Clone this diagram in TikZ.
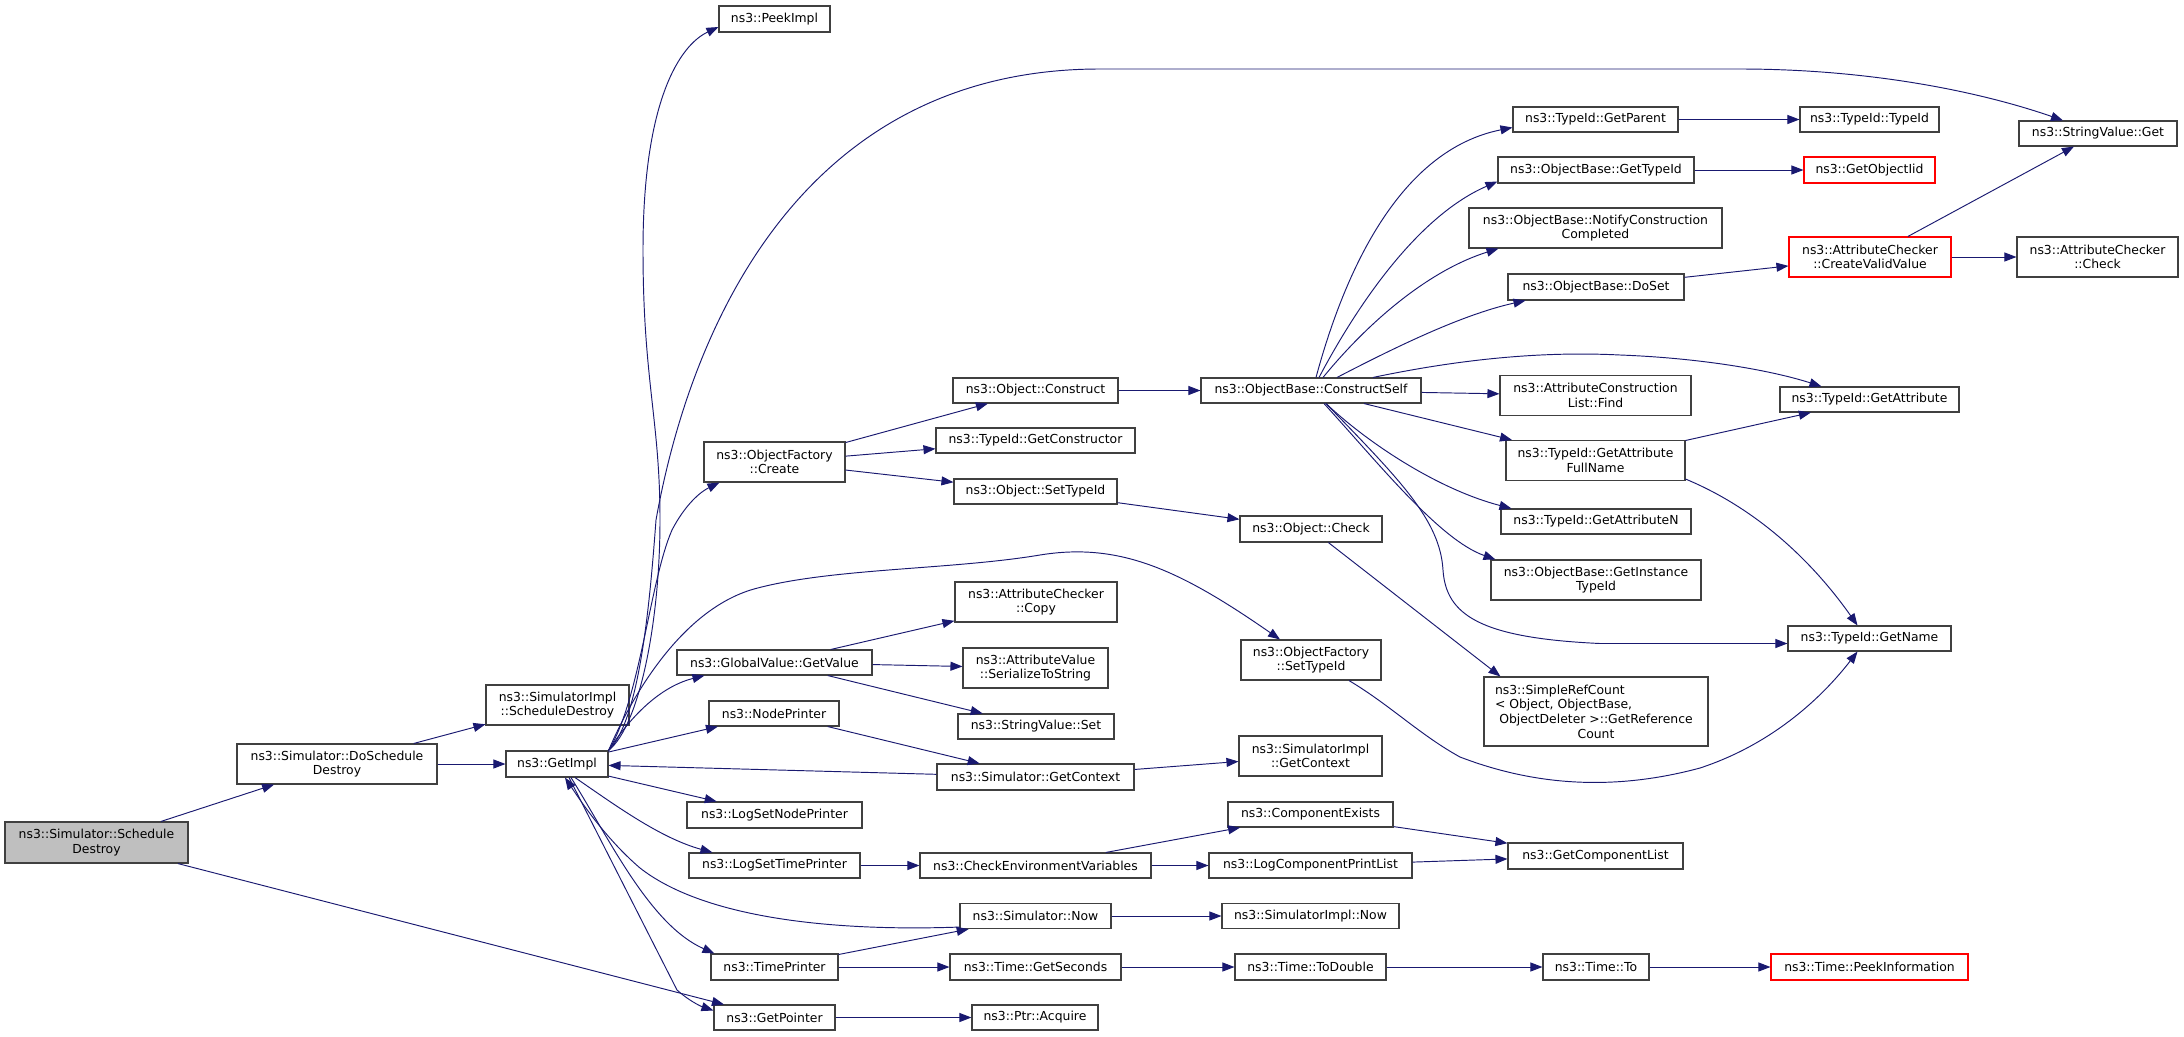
\documentclass[tikz,border=0pt]{standalone}
\usepackage{fontspec}
\setmainfont{DejaVu Sans}
\usetikzlibrary{arrows.meta}
\definecolor{callblue}{HTML}{191970}
\definecolor{boxline}{HTML}{404040}
\definecolor{focusgray}{HTML}{BFBFBF}

\begin{document}
\begin{tikzpicture}[x=1pt, y=-1pt,
    fn/.style={draw=boxline, line width=1.1pt, fill=white, inner sep=0pt, align=center,
      font=\fontsize{12.4}{14.7}\selectfont},
    hot/.style={fn, draw=red},
    call/.style={draw=callblue, line width=0.95pt, -{Triangle[length=12pt,width=9pt]}}]
  \useasboundingbox (0,0) rectangle (2184,1036);

  % first columns
  \node [fn, minimum width=183pt, minimum height=41pt, fill=focusgray] (sched) at (96.5,842.5) {ns3::Simulator::Schedule\\Destroy};
  \node [fn, minimum width=200pt, minimum height=40pt] (dosched) at (337,764) {ns3::Simulator::DoSchedule\\Destroy};
  \node [fn, minimum width=143pt, minimum height=40pt] (implsched) at (557.5,705) {ns3::SimulatorImpl\\::ScheduleDestroy};
  \node [fn, minimum width=102pt, minimum height=26pt] (getimpl) at (557,764) {ns3::GetImpl};

  \node [fn, minimum width=111pt, minimum height=26pt] (peekimpl) at (774.5,19) {ns3::PeekImpl};
  \node [fn, minimum width=141pt, minimum height=40pt] (create) at (774.5,462) {ns3::ObjectFactory\\::Create};
  \node [fn, minimum width=195pt, minimum height=25pt] (getvalue) at (774.5,662.5) {ns3::GlobalValue::GetValue};
  \node [fn, minimum width=130pt, minimum height=25pt] (nodeprn) at (774,713.5) {ns3::NodePrinter};
  \node [fn, minimum width=175pt, minimum height=26pt] (lognode) at (774.5,815) {ns3::LogSetNodePrinter};
  \node [fn, minimum width=171pt, minimum height=25pt] (logtime) at (774.5,865.5) {ns3::LogSetTimePrinter};
  \node [fn, minimum width=127pt, minimum height=26pt] (timeprn) at (774.5,967) {ns3::TimePrinter};
  \node [fn, minimum width=121pt, minimum height=25pt] (getptr) at (774.5,1017.5) {ns3::GetPointer};

  % third column
  \node [fn, minimum width=165pt, minimum height=25pt] (construct) at (1035.5,390.5) {ns3::Object::Construct};
  \node [fn, minimum width=199pt, minimum height=25pt] (getctor) at (1035.5,440.5) {ns3::TypeId::GetConstructor};
  \node [fn, minimum width=163pt, minimum height=25pt] (objsettid) at (1035.5,491.5) {ns3::Object::SetTypeId};
  \node [fn, minimum width=162pt, minimum height=40pt] (chkcopy) at (1036,602) {ns3::AttributeChecker\\::Copy};
  \node [fn, minimum width=145pt, minimum height=40pt] (serialize) at (1035.5,668) {ns3::AttributeValue\\::SerializeToString};
  \node [fn, minimum width=156pt, minimum height=25pt] (strset) at (1036,726.5) {ns3::StringValue::Set};
  \node [fn, minimum width=197pt, minimum height=26pt] (simctx) at (1035.5,777) {ns3::Simulator::GetContext};
  \node [fn, minimum width=231pt, minimum height=25pt] (checkenv) at (1035.5,865.5) {ns3::CheckEnvironmentVariables};
  \node [fn, minimum width=151pt, minimum height=25pt] (simnow) at (1035.5,916) {ns3::Simulator::Now};
  \node [fn, minimum width=171pt, minimum height=26pt] (getsec) at (1035.5,967) {ns3::Time::GetSeconds};
  \node [fn, minimum width=126pt, minimum height=25pt] (acquire) at (1035,1017.5) {ns3::Ptr::Acquire};

  % fourth column
  \node [fn, minimum width=220pt, minimum height=25pt] (cself) at (1311,390.5) {ns3::ObjectBase::ConstructSelf};
  \node [fn, minimum width=142pt, minimum height=26pt] (objcheck) at (1311,529) {ns3::Object::Check};
  \node [fn, minimum width=140pt, minimum height=40pt] (facsettid) at (1311,660) {ns3::ObjectFactory\\::SetTypeId};
  \node [fn, minimum width=143pt, minimum height=40pt] (implctx) at (1310.5,756) {ns3::SimulatorImpl\\::GetContext};
  \node [fn, minimum width=165pt, minimum height=25pt] (compexists) at (1310.5,814.5) {ns3::ComponentExists};
  \node [fn, minimum width=203pt, minimum height=25pt] (logcomp) at (1310.5,865.5) {ns3::LogComponentPrintList};
  \node [fn, minimum width=177pt, minimum height=25pt] (implnow) at (1310.5,916) {ns3::SimulatorImpl::Now};
  \node [fn, minimum width=151pt, minimum height=26pt] (todouble) at (1310.5,967) {ns3::Time::ToDouble};

  % fifth column
  \node [fn, minimum width=165pt, minimum height=25pt] (getparent) at (1595.5,119.5) {ns3::TypeId::GetParent};
  \node [fn, minimum width=196pt, minimum height=26pt] (obgettid) at (1596,170) {ns3::ObjectBase::GetTypeId};
  \node [fn, minimum width=253pt, minimum height=40pt] (notify) at (1595.5,228) {ns3::ObjectBase::NotifyConstruction\\Completed};
  \node [fn, minimum width=176pt, minimum height=26pt] (doset) at (1596,287) {ns3::ObjectBase::DoSet};
  \node [fn, minimum width=191pt, minimum height=40pt] (cfind) at (1595.5,395.5) {ns3::AttributeConstruction\\List::Find};
  \node [fn, minimum width=179pt, minimum height=40pt] (fullname) at (1595.5,460.5) {ns3::TypeId::GetAttribute\\FullName};
  \node [fn, minimum width=190pt, minimum height=25pt] (attrn) at (1596,521.5) {ns3::TypeId::GetAttributeN};
  \node [fn, minimum width=210pt, minimum height=40pt] (insttid) at (1596,580) {ns3::ObjectBase::GetInstance\\TypeId};
  \node [fn, minimum width=224pt, minimum height=69pt] (refcount) at (1596,711.5)
    {\makebox[202pt][l]{ns3::SimpleRefCount}\\\makebox[202pt][l]{< Object, ObjectBase,}\\ObjectDeleter >::GetReference\\Count};
  \node [fn, minimum width=175pt, minimum height=26pt] (complist) at (1595.5,856) {ns3::GetComponentList};
  \node [fn, minimum width=106pt, minimum height=26pt] (timeto) at (1596,967) {ns3::Time::To};

  % sixth and seventh column
  \node [fn, minimum width=139pt, minimum height=25pt] (tidtid) at (1869.5,119.5) {ns3::TypeId::TypeId};
  \node [hot, minimum width=131pt, minimum height=26pt] (objiid) at (1869.5,170) {ns3::GetObjectIid};
  \node [hot, minimum width=162pt, minimum height=40pt] (validval) at (1870,257) {ns3::AttributeChecker\\::CreateValidValue};
  \node [fn, minimum width=179pt, minimum height=25pt] (getattr) at (1869.5,399.5) {ns3::TypeId::GetAttribute};
  \node [fn, minimum width=163pt, minimum height=25pt] (getname) at (1869.5,638.5) {ns3::TypeId::GetName};
  \node [hot, minimum width=197pt, minimum height=26pt] (peekinfo) at (1869.5,967) {ns3::Time::PeekInformation};
  \node [fn, minimum width=158pt, minimum height=25pt] (strget) at (2098,133.5) {ns3::StringValue::Get};
  \node [fn, minimum width=161pt, minimum height=40pt] (chkcheck) at (2097.5,257) {ns3::AttributeChecker\\::Check};

  % straight calls
  \draw [call] (sched) -- (dosched);
  \draw [call] (sched) -- (getptr);
  \draw [call] (dosched) -- (implsched);
  \draw [call] (dosched) -- (getimpl);
  \draw [call] (getimpl) -- (nodeprn);
  \draw [call] (getimpl) -- (lognode);
  \draw [call] (simctx) -- (getimpl);
  \draw [call] (create) -- (construct);
  \draw [call] (create) -- (getctor);
  \draw [call] (create) -- (objsettid);
  \draw [call] (construct) -- (cself);
  \draw [call] (objsettid) -- (objcheck);
  \draw [call] (objcheck) -- ([xshift=17pt]refcount.north west);
  \draw [call] (getvalue) -- (chkcopy);
  \draw [call] (getvalue) -- (serialize);
  \draw [call] (getvalue) -- (strset);
  \draw [call] (nodeprn) -- (simctx);
  \draw [call] (simctx) -- (implctx);
  \draw [call] (logtime) -- (checkenv);
  \draw [call] (checkenv) -- (compexists);
  \draw [call] (checkenv) -- (logcomp);
  \draw [call] (compexists) -- (complist);
  \draw [call] (logcomp) -- (complist);
  \draw [call] (timeprn) -- (simnow);
  \draw [call] (timeprn) -- (getsec);
  \draw [call] (simnow) -- (implnow);
  \draw [call] (getsec) -- (todouble);
  \draw [call] (todouble) -- (timeto);
  \draw [call] (timeto) -- (peekinfo);
  \draw [call] (getptr) -- (acquire);
  \draw [call] (cself) -- (cfind);
  \draw [call] (cself) -- (fullname);
  \draw [call] (fullname) -- (getattr);
  \draw [call] (getparent) -- (tidtid);
  \draw [call] (obgettid) -- (objiid);
  \draw [call] (doset) -- (validval);
  \draw [call] (validval) -- (strget);
  \draw [call] (validval) -- (chkcheck);

  % curved calls out of GetImpl
  \draw [call] (getimpl.north east) .. controls (640,725) and (660,620) .. (660,520)
    .. controls (660,420) and (643,380) .. (643,250) .. controls (643,100) and (680,45) .. ([yshift=-8pt]peekimpl.west);
  \draw [call] (getimpl.north east) .. controls (640,720) and (650,600) .. (656,520)
    .. controls (690,330) and (800,69) .. (1100,69) -- (1739,69)
    .. controls (1880,69) and (1990,95) .. ([xshift=-35pt]strget.north);
  \draw [call] (getimpl.north east) .. controls (640,700) and (650,580) .. (672,530)
    .. controls (685,505) and (700,492) .. ([xshift=16pt]create.south west);
  \draw [call] (getimpl.north east) .. controls (625,725) and (655,688) .. ([xshift=28pt]getvalue.south west);
  \draw [call] (getimpl.north east) .. controls (630,700) and (680,610) .. (754,589)
    .. controls (830,568) and (950,570) .. (1040,555) .. controls (1120,542) and (1180,570) .. ([xshift=-31pt]facsettid.north);
  \draw [call] ([xshift=18pt]getimpl.south) .. controls (615,805) and (660,838) .. ([xshift=24pt]logtime.north west);
  \draw [call] ([xshift=14pt]getimpl.south) .. controls (610,840) and (650,925) .. ([xshift=4pt]timeprn.north west);
  \draw [call] ([xshift=12pt]getimpl.south) -- (677,990) .. controls (688,1000) and (700,1006) .. ([yshift=7pt]getptr.west);
  \draw [call] ([yshift=2pt]simnow.south west) .. controls (820,932) and (700,915) .. (640,868)
    .. controls (605,838) and (580,800) .. ([xshift=8pt]getimpl.south);

  % curved calls out of ConstructSelf
  \draw [call] ([xshift=5pt]cself.north) .. controls (1345,270) and (1400,150) .. ([yshift=-8pt]getparent.west);
  \draw [call] ([xshift=8pt]cself.north) .. controls (1360,300) and (1420,215) .. ([yshift=2pt]obgettid.south west);
  \draw [call] ([xshift=12pt]cself.north) .. controls (1370,320) and (1430,270) .. ([xshift=30pt]notify.south west);
  \draw [call] ([xshift=26pt]cself.north) .. controls (1390,350) and (1460,315) .. ([xshift=18pt]doset.south west);
  \draw [call] ([xshift=62pt]cself.north) .. controls (1480,355) and (1560,352) .. (1620,355)
    .. controls (1700,358) and (1770,370) .. ([xshift=-48pt]getattr.north);
  \draw [call] ([xshift=15pt]cself.south) .. controls (1370,445) and (1440,490) .. ([xshift=11pt]attrn.north west);
  \draw [call] ([xshift=13pt]cself.south) .. controls (1380,465) and (1440,540) .. ([xshift=5pt]insttid.north west);
  \draw [call] ([xshift=15pt]cself.south) .. controls (1400,480) and (1440,520) .. (1443,570)
    .. controls (1446,615) and (1480,638) .. (1600,643.5) -- ([yshift=-5pt]getname.west);

  % the rest
  \draw [call] ([yshift=2pt]fullname.south east) .. controls (1760,510) and (1815,565) .. ([xshift=-12pt]getname.north);
  \draw [call] ([xshift=38pt]facsettid.south) .. controls (1390,705) and (1420,735) .. (1460,757)
    .. controls (1520,780) and (1600,795) .. (1700,768) .. controls (1770,745) and (1820,700) .. ([xshift=-12pt]getname.south);
\end{tikzpicture}
\end{document}
